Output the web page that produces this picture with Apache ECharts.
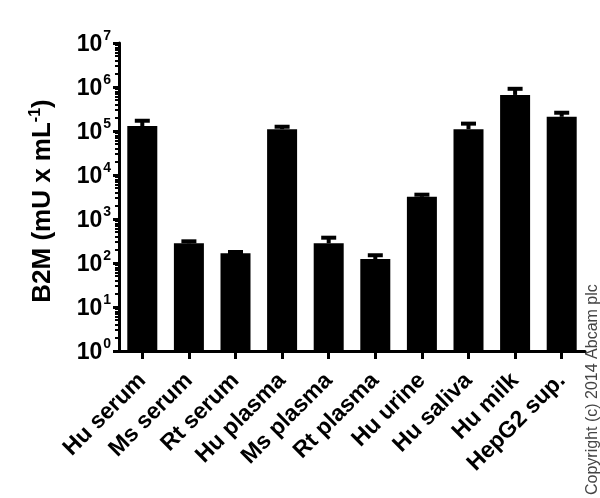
<!DOCTYPE html>
<html>
<head>
<meta charset="utf-8">
<script src="https://cdn.jsdelivr.net/npm/echarts@6/dist/echarts.min.js"></script>
<style>
html,body{margin:0;padding:0;background:#fff;}
#c{width:600px;height:498px;}
</style>
</head>
<body>
<div id="c"></div>
<script>
const categories = ['Hu serum','Ms serum','Rt serum','Hu plasma','Ms plasma','Rt plasma','Hu urine','Hu saliva','Hu milk','HepG2 sup.'];
const means = [130000, 280, 166, 110000, 280, 123, 3200, 110000, 660000, 210000];
const errorTops = [171000, 311, 178, 125000, 376, 150, 3570, 147000, 910000, 260000];
const majorTicks = [1, 10, 100, 1000, 10000, 100000, 1000000, 10000000];
const minorTicks = [];
for (let k = 0; k < 7; k++) for (let m = 2; m <= 9; m++) minorTicks.push(m * Math.pow(10, k));

const FONT = '"Liberation Sans", Arial, sans-serif';
const chart = echarts.init(document.getElementById('c'), null, {renderer: 'canvas'});

chart.setOption({
  animation: false,
  backgroundColor: '#fff',
  grid: {left: 119, right: 15, top: 43, bottom: 147, containLabel: false},
  xAxis: {
    type: 'category',
    data: categories,
    axisLine: {lineStyle: {color: '#000', width: 3}},
    axisTick: {show: true, alignWithLabel: true, length: 8, lineStyle: {color: '#000', width: 3}},
    axisLabel: {
      interval: 0, rotate: 45, margin: 26,
      color: '#000', fontFamily: FONT, fontWeight: 'bold', fontSize: 23
    }
  },
  yAxis: [{
    type: 'log', logBase: 10, min: 1, max: 10000000,
    axisLine: {show: true, lineStyle: {color: '#000', width: 3}},
    axisTick: {show: true, length: 6, customValues: majorTicks, lineStyle: {color: '#000', width: 3}},
    splitLine: {show: false},
    axisLabel: {
      customValues: majorTicks,
      margin: 8,
      formatter: v => '{b|10}{s|' + Math.round(Math.log10(v)) + '}',
      rich: {
        b: {fontFamily: FONT, fontWeight: 'bold', fontSize: 23, color: '#000', padding: [4, 0, 0, 0]},
        s: {fontFamily: FONT, fontWeight: 'bold', fontSize: 14, color: '#000', verticalAlign: 'top', padding: [0, 0, 12, 1]}
      }
    },
    name: '{t|B2M (mU x mL}{s|-1}{t|)}',
    nameLocation: 'middle',
    nameGap: 61,
    nameRotate: 90,
    nameTextStyle: {
      padding: [0, 8, 0, 0],
      rich: {
        t: {fontFamily: FONT, fontWeight: 'bold', fontSize: 26, color: '#000'},
        s: {fontFamily: FONT, fontWeight: 'bold', fontSize: 16, color: '#000', padding: [0, 0, 14, 0]}
      }
    }
  }, {
    type: 'log', logBase: 10, min: 1, max: 10000000,
    position: 'left', offset: 0,
    axisLine: {show: false},
    axisTick: {show: true, length: 4, customValues: minorTicks, lineStyle: {color: '#000', width: 2}},
    axisLabel: {show: false},
    splitLine: {show: false}
  }],
  series: [{
    type: 'bar',
    data: means,
    barWidth: 30,
    itemStyle: {color: '#000'},
    z: 2
  }, {
    type: 'custom',
    data: categories.map((c, i) => [i, means[i], errorTops[i]]),
    z: 3,
    renderItem: function (params, api) {
      const top = api.coord([api.value(0), api.value(2)]);
      const base = api.coord([api.value(0), api.value(1)]);
      const hw = 7.5;
      return {
        type: 'group',
        children: [
          {type: 'line', shape: {x1: top[0], y1: base[1], x2: top[0], y2: top[1]}, style: {stroke: '#000', lineWidth: 4}},
          {type: 'line', shape: {x1: top[0] - hw, y1: top[1], x2: top[0] + hw, y2: top[1]}, style: {stroke: '#000', lineWidth: 4}}
        ]
      };
    }
  }],
  graphic: [{
    type: 'text',
    x: 585, y: 495,
    rotation: Math.PI / 2,
    style: {
      text: 'Copyright (c) 2014 Abcam plc',
      font: '16px ' + FONT,
      fill: '#444',
      textAlign: 'left',
      textVerticalAlign: 'top'
    }
  }]
});
</script>
</body>
</html>
